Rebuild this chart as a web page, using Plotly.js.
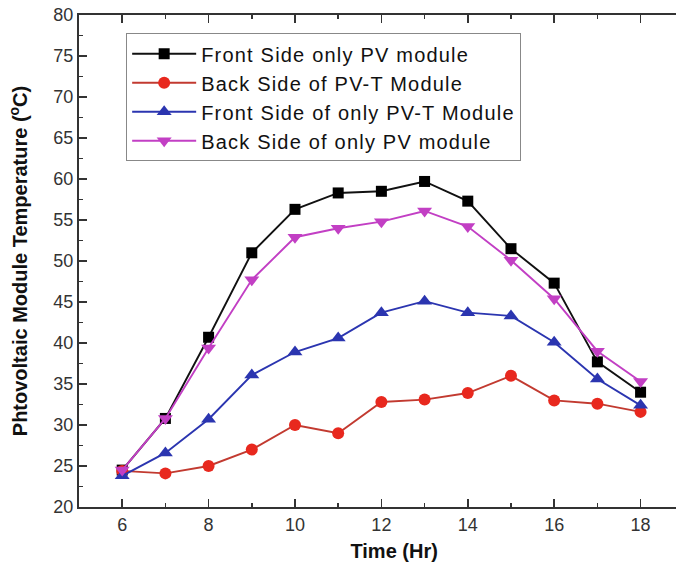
<!DOCTYPE html>
<html>
<head>
<meta charset="utf-8">
<script src="https://cdn.plot.ly/plotly-3.0.1.min.js"></script>
<style>html,body{margin:0;padding:0;background:#fff;}#chart{width:676px;height:567px;}
.legendtext{letter-spacing:1.2px;}</style>
</head>
<body>
<div id="chart"></div>
<script>
const hours = [6, 7, 8, 9, 10, 11, 12, 13, 14, 15, 16, 17, 18];
const frontPV = [24.5, 30.8, 40.7, 51.0, 56.3, 58.3, 58.5, 59.7, 57.3, 51.5, 47.3, 37.7, 34.0];
const backPVT = [24.4, 24.1, 25.0, 27.0, 30.0, 29.0, 32.8, 33.1, 33.9, 36.0, 33.0, 32.6, 31.6];
const frontPVT = [23.8, 26.6, 30.7, 36.1, 38.9, 40.6, 43.7, 45.1, 43.7, 43.3, 40.1, 35.6, 32.4];
const backPV = [24.5, 30.8, 39.4, 47.7, 52.9, 54.0, 54.8, 56.1, 54.2, 50.1, 45.4, 39.0, 35.3];
const seriesNames = ["Front Side only PV module", "Back Side of PV-T Module", "Front Side of only PV-T Module", "Back Side of only PV module"];
const xTicks = [6, 8, 10, 12, 14, 16, 18];
const yTicks = [20, 25, 30, 35, 40, 45, 50, 55, 60, 65, 70, 75, 80];

const FONT = 'Liberation Sans, Arial, sans-serif';
function tr(y, name, lineColor, markerColor, symbol, size, grp) {
  return {
    x: hours, y: y, name: name, type: 'scatter', mode: 'lines+markers',
    legendgroup: grp,
    line: {color: lineColor, width: 1.9},
    marker: {color: markerColor, symbol: symbol, size: size, line: {width: 0}}
  };
}
const data = [
  tr(frontPV, seriesNames[0], '#111111', '#000000', 'square', 11, 'a'),
  tr(backPVT, seriesNames[1], '#c23a30', '#e8281e', 'circle', 12, 'b'),
  tr(frontPVT, seriesNames[2], '#2b35b0', '#2b35b0', 'triangle-up', 13, 'c'),
  tr(backPV, seriesNames[3], '#c23fc4', '#c23fc4', 'triangle-down', 13, 'd')
];
const layout = {
  width: 676, height: 567,
  margin: {l: 79, r: 0, t: 15, b: 60},
  paper_bgcolor: '#fff', plot_bgcolor: '#fff',
  font: {family: FONT, color: '#222'},
  showlegend: true,
  legend: {
    x: 0.079, y: 0.963, xanchor: 'left', yanchor: 'top',
    bgcolor: '#fff', bordercolor: '#888', borderwidth: 1,
    font: {family: FONT, size: 20, color: '#111'},
    itemwidth: 64, tracegroupgap: 0
  },
  xaxis: {
    range: [5, 18.82], tickvals: xTicks, ticktext: xTicks.map(String),
    ticks: 'inside', ticklen: 8, tickwidth: 1.5, tickcolor: '#333',
    minor: {dtick: 1, ticks: 'inside', ticklen: 4, tickwidth: 1.5, tickcolor: '#333'},
    showline: true, linecolor: '#333', linewidth: 2, mirror: 'ticks',
    showgrid: false, zeroline: false,
    tickfont: {family: FONT, size: 18, color: '#333'},
    title: {text: '<b>\u00a0\u00a0\u00a0\u00a0\u00a0\u00a0Time (Hr)</b>', font: {family: FONT, size: 20, color: '#111'}, standoff: 10},
    automargin: false
  },
  yaxis: {
    range: [20, 80], tickvals: yTicks, ticktext: yTicks.map(String),
    ticks: 'inside', ticklen: 8, tickwidth: 1.5, tickcolor: '#333',
    minor: {dtick: 2.5, ticks: 'inside', ticklen: 4, tickwidth: 1.5, tickcolor: '#333'},
    showline: true, linecolor: '#333', linewidth: 2, mirror: false,
    showgrid: false, zeroline: false,
    tickfont: {family: FONT, size: 18, color: '#333'},
    title: {text: '<b>Phtovoltaic Module Temperature (<sup>o</sup>C)</b>', font: {family: FONT, size: 20, color: '#111'}, standoff: 20},
    automargin: false
  }
};
Plotly.newPlot('chart', data, layout, {displayModeBar: false, staticPlot: true});
</script>
</body>
</html>
